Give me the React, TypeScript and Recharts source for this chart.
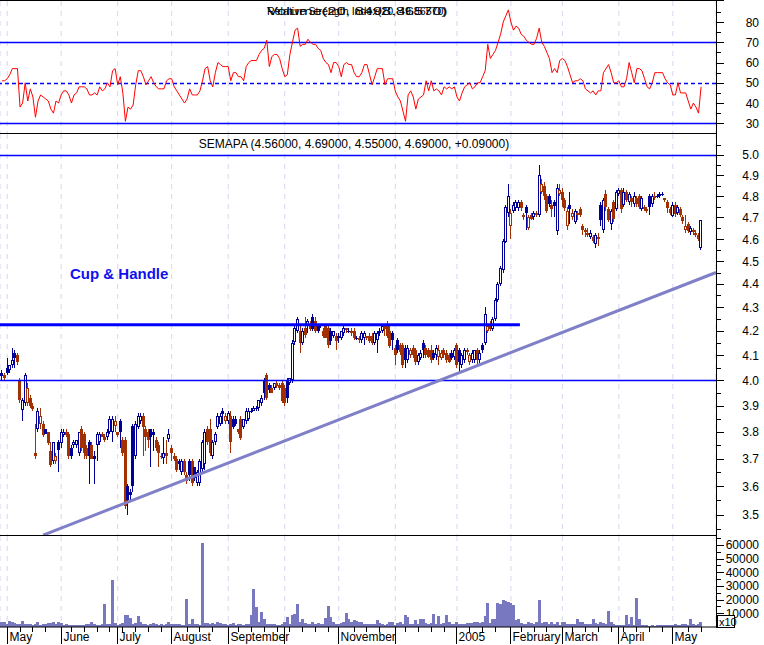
import React from 'react';
import { ComposedChart, Line, Bar, XAxis, YAxis, CartesianGrid, ReferenceLine } from 'recharts';

// ---------- DATA ----------
// daily candles [open, high, low, close], late April 2004 .. May 2005
const ohlc: number[][] = [
  // May 2004
  [4.03,4.04,4.00,4.02],[4.02,4.03,4.00,4.01],[4.05,4.09,4.02,4.03],[4.04,4.06,4.03,4.06],[4.06,4.13,4.05,4.08],
  [4.11,4.12,4.05,4.09],[4.10,4.11,4.06,4.07],[4.00,4.01,3.91,3.92],[3.88,3.93,3.84,3.92],[3.91,4.03,3.90,4.02],
  [3.91,3.99,3.90,3.97],[3.93,3.94,3.89,3.90],[3.90,3.91,3.88,3.89],[3.72,3.83,3.70,3.71],[3.81,3.89,3.80,3.88],
  [3.83,3.89,3.81,3.86],[3.83,3.84,3.78,3.79],[3.81,3.81,3.79,3.79],[3.80,3.80,3.75,3.76],[3.73,3.76,3.67,3.68],
  [3.69,3.76,3.68,3.76],[3.69,3.72,3.68,3.71],[3.76,3.77,3.65,3.73],
  // June
  [3.76,3.81,3.74,3.80],[3.79,3.81,3.78,3.80],[3.80,3.81,3.78,3.79],[3.79,3.80,3.70,3.71],[3.74,3.75,3.70,3.71],
  [3.75,3.77,3.74,3.76],[3.75,3.77,3.74,3.77],[3.72,3.80,3.71,3.80],[3.81,3.82,3.73,3.74],[3.79,3.80,3.70,3.72],
  [3.74,3.75,3.70,3.71],[3.76,3.77,3.61,3.71],[3.75,3.76,3.70,3.70],[3.71,3.73,3.61,3.70],[3.75,3.80,3.69,3.79],
  [3.76,3.80,3.75,3.79],[3.79,3.80,3.78,3.78],[3.78,3.79,3.76,3.77],[3.78,3.81,3.77,3.80],[3.80,3.86,3.79,3.85],
  [3.80,3.86,3.76,3.85],[3.82,3.86,3.80,3.84],
  // July
  [3.80,3.80,3.78,3.79],[3.84,3.85,3.74,3.80],[3.77,3.78,3.71,3.72],[3.77,3.78,3.52,3.53],[3.60,3.61,3.50,3.55],
  [3.58,3.59,3.55,3.57],[3.82,3.83,3.58,3.60],[3.71,3.84,3.70,3.83],[3.82,3.87,3.81,3.86],[3.84,3.87,3.83,3.86],
  [3.86,3.87,3.71,3.82],[3.81,3.82,3.73,3.78],[3.80,3.81,3.74,3.77],[3.81,3.81,3.67,3.78],[3.80,3.81,3.73,3.79],
  [3.77,3.78,3.73,3.74],[3.75,3.76,3.67,3.72],[3.71,3.72,3.70,3.71],[3.70,3.78,3.68,3.72],[3.72,3.77,3.68,3.71],
  [3.77,3.81,3.76,3.79],
  // August
  [3.74,3.75,3.69,3.72],[3.71,3.72,3.69,3.70],[3.70,3.71,3.65,3.66],[3.69,3.70,3.66,3.68],[3.65,3.70,3.64,3.69],
  [3.69,3.70,3.64,3.65],[3.64,3.65,3.61,3.62],[3.69,3.70,3.62,3.64],[3.69,3.70,3.60,3.61],[3.67,3.67,3.62,3.63],
  [3.61,3.66,3.60,3.65],[3.61,3.70,3.60,3.69],[3.66,3.77,3.65,3.76],[3.68,3.81,3.66,3.80],[3.81,3.82,3.75,3.76],
  [3.81,3.85,3.71,3.72],[3.71,3.77,3.70,3.76],[3.76,3.80,3.75,3.79],[3.82,3.87,3.81,3.86],[3.83,3.87,3.82,3.86],
  [3.88,3.89,3.83,3.87],[3.84,3.87,3.83,3.86],
  // September
  [3.84,3.88,3.83,3.87],[3.86,3.88,3.72,3.76],[3.85,3.86,3.81,3.82],[3.85,3.86,3.82,3.83],[3.81,3.81,3.79,3.80],
  [3.85,3.86,3.77,3.78],[3.82,3.85,3.81,3.85],[3.84,3.89,3.83,3.88],[3.85,3.89,3.84,3.88],[3.88,3.89,3.87,3.88],
  [3.88,3.90,3.88,3.89],[3.89,3.90,3.88,3.89],[3.89,3.92,3.88,3.92],[3.91,3.94,3.90,3.93],[4.00,4.01,3.92,3.95],
  [4.02,4.03,3.92,3.93],[3.98,3.99,3.95,3.96],[3.97,3.98,3.95,3.95],[3.97,3.99,3.96,3.99],[3.99,4.00,3.97,3.98],
  [3.98,3.99,3.96,3.97],[3.99,4.00,3.91,3.92],
  // October
  [3.97,3.98,3.90,3.91],[4.00,4.01,3.91,3.93],[3.99,4.01,3.98,4.01],[4.00,4.16,3.99,4.15],[4.15,4.22,4.14,4.21],
  [4.20,4.26,4.19,4.25],[4.20,4.22,4.11,4.15],[4.15,4.21,4.14,4.20],[4.21,4.26,4.17,4.18],[4.22,4.25,4.19,4.24],
  [4.23,4.24,4.20,4.21],[4.26,4.27,4.20,4.21],[4.24,4.26,4.19,4.20],[4.22,4.23,4.19,4.20],[4.23,4.23,4.21,4.22],
  [4.20,4.21,4.17,4.18],[4.22,4.23,4.17,4.17],[4.21,4.22,4.13,4.14],[4.20,4.21,4.14,4.16],[4.18,4.20,4.17,4.20],
  [4.18,4.19,4.12,4.16],
  // November
  [4.18,4.19,4.15,4.17],[4.17,4.20,4.16,4.20],[4.19,4.22,4.18,4.21],[4.21,4.21,4.19,4.20],[4.20,4.21,4.19,4.20],
  [4.20,4.21,4.18,4.19],[4.20,4.21,4.16,4.17],[4.17,4.18,4.16,4.17],[4.17,4.18,4.15,4.16],[4.16,4.20,4.15,4.19],
  [4.17,4.20,4.14,4.19],[4.18,4.18,4.16,4.17],[4.18,4.19,4.15,4.16],[4.18,4.19,4.14,4.15],[4.15,4.20,4.14,4.19],
  [4.16,4.20,4.11,4.19],[4.19,4.21,4.18,4.20],[4.20,4.22,4.19,4.22],[4.23,4.23,4.18,4.21],[4.23,4.24,4.17,4.18],
  [4.20,4.22,4.13,4.14],[4.19,4.20,4.12,4.16],
  // December
  [4.13,4.14,4.06,4.10],[4.16,4.17,4.11,4.12],[4.14,4.15,4.10,4.11],[4.14,4.15,4.05,4.06],[4.13,4.14,4.05,4.08],
  [4.08,4.14,4.07,4.13],[4.10,4.13,4.09,4.12],[4.13,4.14,4.09,4.10],[4.12,4.13,4.06,4.07],[4.07,4.11,4.06,4.10],
  [4.09,4.12,4.08,4.11],[4.15,4.16,4.09,4.12],[4.13,4.14,4.09,4.10],[4.12,4.13,4.09,4.09],[4.12,4.14,4.07,4.08],
  [4.11,4.12,4.08,4.09],[4.10,4.14,4.08,4.13],[4.09,4.14,4.06,4.12],[4.09,4.12,4.08,4.11],[4.12,4.13,4.09,4.10],
  [4.11,4.12,4.07,4.08],[4.10,4.11,4.07,4.07],[4.11,4.12,4.08,4.09],[4.09,4.13,4.08,4.12],
  // January 2005
  [4.14,4.15,4.05,4.06],[4.12,4.13,4.03,4.07],[4.06,4.11,4.05,4.10],[4.08,4.13,4.07,4.12],[4.12,4.13,4.10,4.11],
  [4.07,4.11,4.06,4.10],[4.08,4.12,4.07,4.11],[4.08,4.12,4.07,4.12],[4.12,4.13,4.06,4.08],[4.08,4.12,4.07,4.11],
  [4.14,4.15,4.11,4.12],[4.15,4.30,4.14,4.27],[4.20,4.23,4.19,4.22],[4.23,4.24,4.20,4.21],[4.21,4.26,4.20,4.25],
  [4.25,4.34,4.24,4.33],[4.33,4.41,4.32,4.40],[4.40,4.48,4.39,4.47],[4.46,4.60,4.45,4.59],[4.59,4.76,4.58,4.75],
  [4.72,4.86,4.70,4.80],
  // February
  [4.66,4.74,4.60,4.72],[4.73,4.77,4.72,4.76],[4.74,4.78,4.73,4.77],[4.74,4.78,4.73,4.77],[4.77,4.78,4.73,4.74],
  [4.71,4.72,4.69,4.70],[4.75,4.76,4.64,4.72],[4.65,4.71,4.64,4.70],[4.71,4.72,4.69,4.69],[4.70,4.73,4.69,4.72],
  [4.72,4.73,4.70,4.71],[4.71,4.95,4.70,4.90],[4.82,4.88,4.81,4.86],[4.85,4.87,4.78,4.80],[4.80,4.81,4.72,4.73],
  [4.80,4.81,4.75,4.76],[4.76,4.78,4.70,4.74],[4.77,4.78,4.70,4.75],[4.64,4.86,4.62,4.84],[4.81,4.86,4.80,4.83],
  // March
  [4.82,4.84,4.75,4.78],[4.78,4.79,4.73,4.74],[4.66,4.75,4.64,4.73],[4.76,4.82,4.67,4.74],[4.70,4.74,4.69,4.72],
  [4.68,4.74,4.67,4.73],[4.71,4.73,4.69,4.72],[4.74,4.75,4.70,4.71],[4.66,4.67,4.62,4.64],[4.64,4.65,4.61,4.63],
  [4.63,4.65,4.61,4.62],[4.61,4.64,4.60,4.63],[4.61,4.62,4.58,4.59],[4.58,4.63,4.56,4.62],[4.60,4.63,4.57,4.61],
  [4.76,4.77,4.66,4.69],[4.64,4.79,4.63,4.78],[4.81,4.83,4.73,4.75],[4.74,4.75,4.68,4.69],[4.67,4.74,4.64,4.73],
  [4.77,4.78,4.68,4.69],[4.74,4.83,4.73,4.82],
  // April
  [4.81,4.84,4.80,4.83],[4.83,4.84,4.72,4.74],[4.76,4.84,4.75,4.82],[4.82,4.83,4.77,4.78],[4.77,4.82,4.76,4.81],
  [4.79,4.80,4.75,4.77],[4.76,4.82,4.75,4.80],[4.79,4.80,4.75,4.76],[4.80,4.81,4.74,4.75],[4.74,4.80,4.73,4.79],
  [4.75,4.76,4.73,4.74],[4.74,4.75,4.72,4.73],[4.80,4.81,4.71,4.75],[4.76,4.81,4.75,4.80],[4.80,4.82,4.78,4.79],
  [4.80,4.81,4.79,4.80],[4.80,4.82,4.79,4.81],[4.81,4.82,4.80,4.81],[4.79,4.79,4.77,4.78],[4.77,4.78,4.72,4.74],
  [4.74,4.75,4.71,4.72],
  // May
  [4.71,4.77,4.70,4.76],[4.76,4.77,4.70,4.72],[4.72,4.76,4.71,4.75],[4.74,4.75,4.70,4.71],[4.70,4.71,4.67,4.68],
  [4.64,4.71,4.63,4.66],[4.67,4.68,4.63,4.64],[4.63,4.66,4.62,4.65],[4.64,4.65,4.62,4.63],[4.63,4.64,4.61,4.62],
  [4.62,4.63,4.59,4.60],[4.56,4.69,4.55,4.69],
];

const rsiValues: number[] = [
  51,51,52,54,57,57,57,38,40,50, 41,47,43,33,41,44,43,42,41,37,
  35,41,40,44,46,46,44,40,44,45, 48,48,48,47,44,44,45,44,48,46,
  47,50,48,56,57,49,53,45,31,38, 37,39,49,56,56,53,49,51,53,50,
  48,47,47,47,51,52,52,48,46,44, 42,40,42,47,44,44,44,46,51,57,
  58,51,48,55,60,59,58,58,58,51, 55,55,53,53,51,58,60,61,61,61,
  64,66,67,71,58,63,64,64,62,57, 53,54,64,70,76,77,68,69,69,71.5,
  70,69,69,67,66,62,60,59,55,60, 60,58,53,59,60,59,59,55,53,53,
  55,59,59,54,49,53,57,57,57,49, 52,52,52,46,43,41,36,31,44,46,
  43,37,42,43,44,51,46,51,46,47, 46,44,48,47,48,47,48,43,41,45,
  48,49,50,47,48,50,50,53,56,69, 62,64,66,70,74,80,83,86,80,76,
  78,77,74,73,71,70,69,69,72,77, 70,68,65,62,55,57,55,61,62,61,
  58,54,50,51,51,52,51,47,46,45, 46,44,46,46,55,57,59,55,50,50,
  51,48,48,52,60,55,50,57,57,56, 52,48,47,50,55,55,55,55,52,50,
  49,44,44,50,45,45,45,41,37,40, 38,35,48,
];

const volumeValues: number[] = [
  4000,3500,2500,4500,3500,3000,2500,2000,4500,2500, 2000,2000,1500,2500,3500,1500,2000,2500,3000,3000,
  3500,2500,4000,3000,1500,2000,1500,1500,1500,1500, 1500,1500,1500,2000,2500,4000,2000,1500,1500,2000,
  17000,2500,2500,34500,3000,1500,2500,3000,9000,8500, 6500,2500,3000,8000,4000,2000,2000,1500,2000,3000,
  2000,1500,2500,1500,2000,4000,2000,2000,2000,2000, 1500,1500,20500,2000,5500,2000,2000,1500,61500,3000,
  3000,2500,3000,2500,3500,3000,2500,2000,1500,2000, 3000,1500,2000,2500,1500,2000,2000,8500,28000,14500,
  4000,11000,5500,2500,2000,2500,2500,1500,1500,2500, 3500,7000,2500,9000,9500,17000,3500,5500,3000,2500,
  2500,4000,2500,3000,2500,2500,6500,15000,7000,4000, 2000,2500,3000,4000,10000,5500,3500,5000,4500,3500,
  4000,2500,2000,2500,2500,2000,5000,3000,2500,1500, 2000,4000,3500,1500,3000,4000,2500,8500,7500,2000,
  2000,5000,2000,5500,5500,3000,2000,3000,9500,2000, 8000,2000,3000,8500,3500,2500,2000,4000,2500,2000,
  2500,3000,3000,3000,3500,3500,3000,3500,8000,17500, 3000,5500,5500,17500,17000,20000,19000,18500,17500,16000,
  5000,6000,3000,2500,2000,4000,3000,2500,4000,19500, 3000,4000,4000,2500,3500,2000,3500,1500,4000,3500,
  2500,2500,2000,2500,5500,3500,3500,2000,2500,2500, 5500,3000,2500,3500,3000,2500,12000,4000,2000,1500,
  1500,1500,1500,8500,2000,7000,1500,21500,6000,1500, 1500,1500,1000,1500,1000,1500,1500,1500,1500,1500,
  1500,1500,2000,1500,1500,2000,2500,1500,6000,2000, 1500,2500,4000,
];

// month starts (trading-day index) and their labels
const monthTicks = [2, 23, 45, 66, 88, 110, 131, 153, 177, 198, 218, 240, 261];
const monthLabels = ['May', 'June', 'July', 'August', 'September', '', 'November', '', '2005', 'February', 'March', 'April', 'May'];

// drawn lines: cup rim and rising trendline (index, price)
const rimLine = [{ x: -0.8, y: 4.225 }, { x: 201.5, y: 4.225 }];
const trendLine = [{ x: 16, y: 3.43 }, { x: 277.8, y: 4.45 }];

const rsiTicks = [30, 35, 40, 45, 50, 55, 60, 65, 70, 75, 80, 85];
const priceTicks = [3.45, 3.5, 3.55, 3.6, 3.65, 3.7, 3.75, 3.8, 3.85, 3.9, 3.95, 4.0, 4.05, 4.1, 4.15, 4.2, 4.25, 4.3, 4.35, 4.4, 4.45, 4.5, 4.55, 4.6, 4.65, 4.7, 4.75, 4.8, 4.85, 4.9, 4.95, 5.0, 5.05];
const volumeTicks = [5000, 10000, 15000, 20000, 25000, 30000, 35000, 40000, 45000, 50000, 55000, 60000, 65000];

// ---------- STYLE ----------
const FONT = '"Liberation Sans", Arial, sans-serif';
const BLUE = '#000099';
const BROWN = '#A33000';
const LINE_BLUE = '#0000FF';
const AXIS_X = 716;
const X_DOMAIN: [number, number] = [-0.8, 277.8];

const data = ohlc.map((r, i) => ({
  i,
  o: r[0], h: r[1], l: r[2], c: r[3],
  prev: i > 0 ? ohlc[i - 1][3] : r[3],
  range: [r[2], r[1]],
  rsi: rsiValues[i],
  vol: volumeValues[i],
}));

const weeklyTicks: number[] = [];
for (let k = 2; k <= 272; k += 5) {
  if (!monthTicks.some((m) => Math.abs(m - k) < 1.5)) weeklyTicks.push(k);
}
const xTicks = [...monthTicks, ...weeklyTicks].sort((a, b) => a - b);

const Candle = (props: any) => {
  const { x, y, width, height, payload } = props;
  if (x == null || y == null || !payload) return null;
  const cx = Math.floor(x + width / 2);
  const top = Math.min(y, y + height);
  const bot = Math.max(y, y + height);
  const { o, h, l, c, prev } = payload;
  const lh = Math.log(h);
  const ll = Math.log(l);
  const toY = (v: number) => (lh === ll ? top : top + ((bot - top) * (lh - Math.log(v))) / (lh - ll));
  const color = c >= prev ? BLUE : BROWN;
  const yo = toY(o);
  const yc = toY(c);
  const bTop = Math.round(Math.min(yo, yc));
  const bH = Math.max(Math.round(Math.abs(yo - yc)), 1);
  return (
    <g>
      <line x1={cx + 0.5} x2={cx + 0.5} y1={Math.round(top)} y2={Math.max(Math.round(bot), Math.round(top) + 1)} stroke={color} strokeWidth={1} />
      {c > o ? (
        <rect x={cx - 0.5} y={bTop + 0.5} width={2} height={Math.max(bH - 1, 1)} fill="#ffffff" stroke={color} strokeWidth={1} />
      ) : (
        <rect x={cx - 1} y={bTop} width={3} height={bH} fill={color} />
      )}
    </g>
  );
};

const VolBar = (props: any) => {
  const { x, y, width, height } = props;
  if (x == null || y == null) return null;
  const cx = Math.floor(x + width / 2);
  const top = Math.round(Math.min(y, y + height));
  const bot = Math.round(Math.max(y, y + height));
  return <rect x={cx - 1} y={top} width={3} height={Math.max(bot - top, 1)} fill="#7878C0" />;
};

// horizontal reference lines, pixel aligned
const crispH = (color: string, dash?: string) => (props: any) => {
  const { x1, x2, y1 } = props;
  if (x1 == null || y1 == null) return null;
  const yy = Math.round(y1) + 0.5;
  return <line x1={x1} x2={x2} y1={yy} y2={yy} stroke={color} strokeWidth={1.5} strokeDasharray={dash} />;
};
const solidBlue = crispH(LINE_BLUE);
const dashedBlue = crispH(LINE_BLUE, '4 3');

const makeYTick = (isMajor: (v: number) => boolean, fmt: (v: number) => string) => (props: any) => {
  const { y, payload } = props;
  const v = payload.value;
  const major = isMajor(v);
  const yy = Math.round(y) + 0.5;
  return (
    <g>
      <line x1={AXIS_X} x2={major ? AXIS_X + 8 : AXIS_X + 5} y1={yy} y2={yy} stroke="#000" strokeWidth={1} />
      {major && (
        <text x={759} y={y} dy={4.5} textAnchor="end" fontSize={12} fontFamily={FONT} fill="#000">
          {fmt(v)}
        </text>
      )}
    </g>
  );
};

const rsiTick = makeYTick((v) => v % 10 === 0, (v) => String(v));
const priceTick = makeYTick((v) => Math.round(v * 100) % 10 === 0, (v) => v.toFixed(1));
const volTick = makeYTick((v) => v % 10000 === 0, (v) => String(v));

const XTick = (props: any) => {
  const { x, y, payload } = props;
  const v = payload.value;
  const mi = monthTicks.indexOf(v);
  const px = Math.floor(x) + 0.5;
  if (mi >= 0) {
    return (
      <g>
        <line x1={px} x2={px} y1={y} y2={y + 17} stroke="#000" strokeWidth={1} />
        <text x={px + 2} y={y + 14} fontSize={12} fontFamily={FONT} fill="#000">
          {monthLabels[mi]}
        </text>
      </g>
    );
  }
  return <line x1={px} x2={px} y1={y} y2={y + 5} stroke="#000" strokeWidth={1} />;
};

const GRID = { stroke: '#D6D6F0', strokeDasharray: '5 5' };

export default function App() {
  return (
    <div style={{ position: 'absolute', left: 0, top: 0, width: 764, height: 645, background: '#fff', fontFamily: FONT }}>
      {/* RSI panel */}
      <div style={{ position: 'absolute', left: 0, top: 0 }}>
        <ComposedChart width={764} height={134} data={data} margin={{ top: 1, right: 0, bottom: 1, left: 0 }}>
          <CartesianGrid horizontal={false} {...GRID} />
          <XAxis dataKey="i" type="number" domain={X_DOMAIN} ticks={monthTicks} hide allowDataOverflow />
          <YAxis orientation="right" width={48} type="number" domain={[25.2, 90.4]} ticks={rsiTicks} interval={0}
            tick={rsiTick} tickLine={false} axisLine={false} allowDataOverflow />
          <ReferenceLine y={70} stroke={LINE_BLUE} shape={solidBlue} />
          <ReferenceLine y={30} stroke={LINE_BLUE} shape={solidBlue} />
          <ReferenceLine y={50} stroke={LINE_BLUE} shape={dashedBlue} />
          <Line dataKey="rsi" type="linear" stroke="#FF0000" strokeWidth={1} dot={false} isAnimationActive={false} />
        </ComposedChart>
      </div>

      {/* Price panel */}
      <div style={{ position: 'absolute', left: 0, top: 134 }}>
        <ComposedChart width={764} height={402} data={data} margin={{ top: 0, right: 0, bottom: 0, left: 0 }}>
          <CartesianGrid horizontal={false} {...GRID} />
          <XAxis dataKey="i" type="number" domain={X_DOMAIN} ticks={monthTicks} hide allowDataOverflow />
          <YAxis orientation="right" width={48} type="number" scale="log" domain={[3.427, 5.105]} ticks={priceTicks}
            interval={0} tick={priceTick} tickLine={false} axisLine={false} allowDataOverflow />
          <ReferenceLine y={5.0} stroke={LINE_BLUE} shape={solidBlue} />
          <ReferenceLine y={4.0} stroke={LINE_BLUE} shape={solidBlue} />
          <Bar dataKey="range" barSize={3} shape={Candle} isAnimationActive={false} />
          <ReferenceLine segment={trendLine} stroke="#8080C8" strokeWidth={3} ifOverflow="visible" />
          <ReferenceLine segment={rimLine} stroke={LINE_BLUE} strokeWidth={3} ifOverflow="visible" />
        </ComposedChart>
      </div>

      {/* Volume panel */}
      <div style={{ position: 'absolute', left: 0, top: 536 }}>
        <ComposedChart width={764} height={109} data={data} margin={{ top: 0, right: 0, bottom: 0, left: 0 }}>
          <CartesianGrid horizontal={false} xAxisId="g" {...GRID} />
          <XAxis xAxisId="g" dataKey="i" type="number" domain={X_DOMAIN} ticks={monthTicks} hide allowDataOverflow />
          <XAxis dataKey="i" type="number" domain={X_DOMAIN} ticks={xTicks} interval={0} height={18}
            tick={XTick} tickLine={false} tickSize={0} tickMargin={0} axisLine={{ stroke: '#000' }} allowDataOverflow />
          <YAxis orientation="right" width={48} type="number" domain={[0, 66500]} ticks={volumeTicks} interval={0}
            tick={volTick} tickLine={false} axisLine={false} allowDataOverflow />
          <Bar dataKey="vol" barSize={3} shape={VolBar} isAnimationActive={false} />
        </ComposedChart>
      </div>

      {/* frame, titles and annotations */}
      <svg width={764} height={645} style={{ position: 'absolute', left: 0, top: 0, pointerEvents: 'none' }}>
        <line x1={0} x2={724} y1={0.5} y2={0.5} stroke="#000" strokeWidth={1} />
        <line x1={0} x2={716} y1={133.5} y2={133.5} stroke="#000" strokeWidth={1} />
        <line x1={0} x2={716} y1={535.5} y2={535.5} stroke="#000" strokeWidth={1} />
        <line x1={716.5} x2={716.5} y1={0} y2={628} stroke="#000" strokeWidth={1} />
        <text x={357} y={15} textAnchor="middle" fontSize={10.5} fontFamily={FONT} fill="#000"
          textLength={180} lengthAdjust="spacingAndGlyphs">Relative Strength Index(20, 49.86570)</text>
        <text x={357} y={15} textAnchor="middle" fontSize={10.5} fontFamily={FONT} fill="#000"
          textLength={180} lengthAdjust="spacingAndGlyphs">Volume(20, 8498.86570)</text>
        <text x={354} y={148} textAnchor="middle" fontSize={12} fontFamily={FONT} fill="#000">SEMAPA (4.56000, 4.69000, 4.55000, 4.69000, +0.09000)</text>
        <text x={70} y={279} fontSize={15} fontWeight="bold" fontFamily={FONT} fill="#1010EE">Cup &amp; Handle</text>
        <rect x={717.5} y={615.5} width={17} height={12} fill="#fff" stroke="#000" strokeWidth={1} />
        <text x={719} y={625.5} fontSize={11} fontFamily={FONT} fill="#000">x10</text>
      </svg>
    </div>
  );
}
